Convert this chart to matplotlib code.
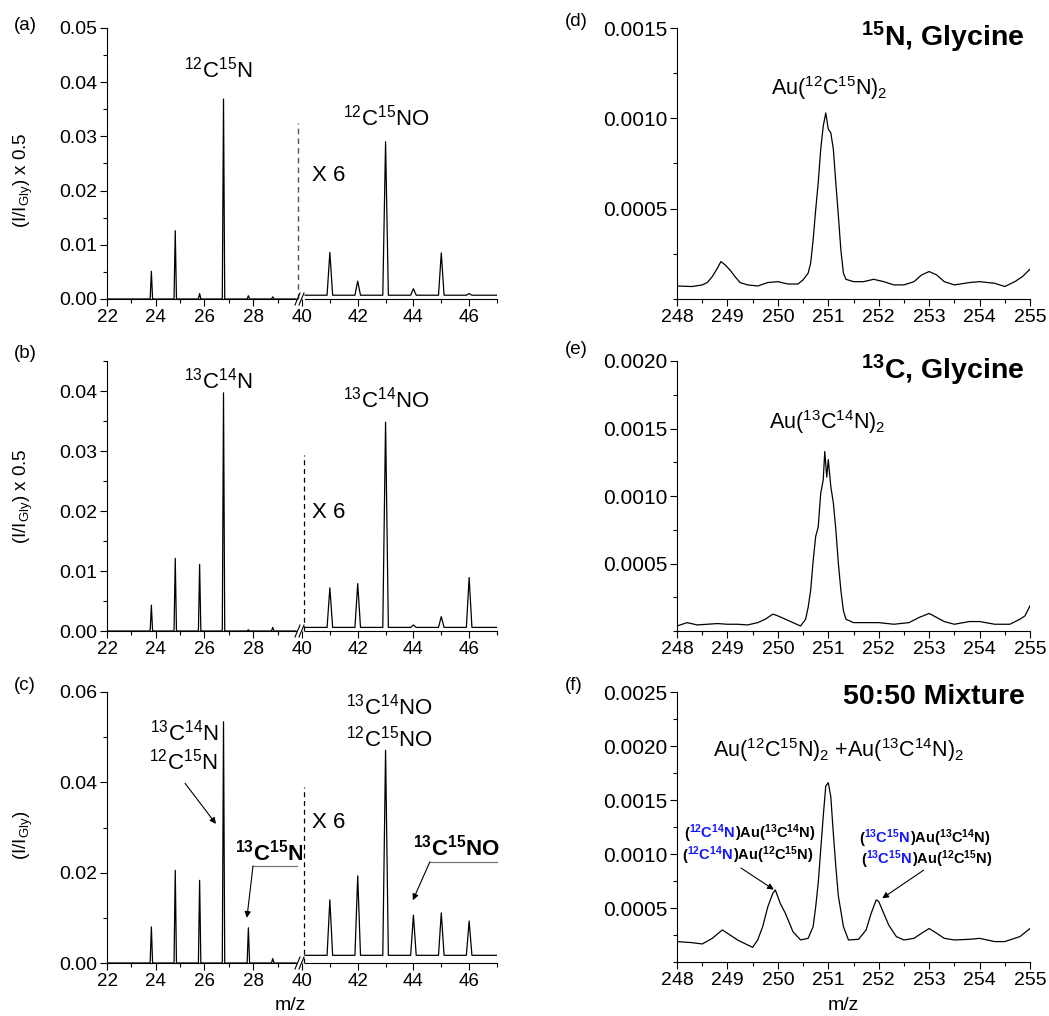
import numpy as np
import matplotlib.pyplot as plt
from matplotlib import transforms
from matplotlib.lines import Line2D
from matplotlib.ticker import MultipleLocator, FixedLocator, FormatStrFormatter

plt.rcParams['font.family'] = ['Liberation Sans', 'DejaVu Sans']
plt.rcParams['mathtext.fontset'] = 'custom'
plt.rcParams['mathtext.rm'] = 'Liberation Sans'
plt.rcParams['mathtext.it'] = 'Liberation Sans:italic'
plt.rcParams['mathtext.bf'] = 'Liberation Sans:bold'
plt.rcParams['mathtext.default'] = 'regular'

W, H = 1049, 1016
BLUE = '#1414ff'

# ---- panels (a)-(c): peak m/z and heights (low range, and high range x6) ----
low_mz = [23.82, 24.80, 25.80, 26.78, 27.80, 28.80]
high_mz = [41.0, 42.0, 43.0, 44.0, 45.0, 46.0]
low_ticks = [22, 24, 26, 28]
high_ticks = [40, 42, 44, 46]

a_low = [0.0051, 0.0126, 0.0010, 0.0369, 0.0006, 0.0004]
a_high = [0.0086, 0.0033, 0.0290, 0.0019, 0.0085, 0.0010]
a_base = 0.0007

b_low = [0.0043, 0.0121, 0.0111, 0.0397, 0.0002, 0.0006]
b_high = [0.0072, 0.0079, 0.0348, 0.0010, 0.0024, 0.0089]
b_base = 0.0006

c_low = [0.0080, 0.0205, 0.0183, 0.0534, 0.0078, 0.0010]
c_high = [0.0140, 0.0193, 0.0471, 0.0106, 0.0111, 0.0093]
c_base = 0.0017

# ---- panels (d)-(f): Au(CN)2 region traces (intensity in units of 1e-4) ----
mz_d = [248.0, 248.3, 248.5, 248.6, 248.7, 248.8, 248.87, 248.95, 249.05, 249.15,
        249.25, 249.4, 249.6, 249.8, 250.0, 250.2, 250.4, 250.5, 250.6, 250.65,
        250.7, 250.75, 250.8, 250.85, 250.9, 250.95, 251.0, 251.05, 251.1, 251.15,
        251.2, 251.25, 251.3, 251.35, 251.5, 251.7, 251.9, 252.1, 252.3, 252.5,
        252.7, 252.85, 253.0, 253.15, 253.3, 253.5, 253.8, 254.0, 254.3, 254.5,
        254.7, 254.85, 255.0]
int_d = [0.72, 0.69, 0.78, 0.91, 1.24, 1.70, 2.07, 1.90, 1.61, 1.24,
         0.91, 0.78, 0.72, 0.91, 0.96, 0.83, 0.83, 1.06, 1.43, 1.98,
         3.28, 4.94, 6.43, 8.28, 9.57, 10.3, 9.4, 9.2, 8.3, 6.4,
         4.6, 2.7, 1.43, 1.09, 0.96, 0.96, 1.09, 0.96, 0.78, 0.78,
         0.96, 1.33, 1.52, 1.33, 0.96, 0.78, 0.91, 0.96, 0.87, 0.69,
         0.96, 1.24, 1.65]

mz_e = [248.0, 248.2, 248.4, 248.6, 248.8, 249.0, 249.2, 249.4, 249.6, 249.75,
        249.9, 250.0, 250.15, 250.3, 250.45, 250.55, 250.6, 250.65, 250.7, 250.75,
        250.8, 250.85, 250.9, 250.93, 250.97, 251.0, 251.05, 251.1, 251.15, 251.2,
        251.25, 251.3, 251.35, 251.5, 251.8, 252.0, 252.3, 252.6, 252.8, 253.0,
        253.15, 253.3, 253.5, 253.8, 254.0, 254.3, 254.6, 254.8, 254.9, 255.0]
int_e = [0.37, 0.62, 0.45, 0.50, 0.55, 0.50, 0.50, 0.45, 0.62, 0.87,
         1.25, 1.12, 0.87, 0.62, 0.37, 0.87, 1.74, 3.0, 5.2, 7.0,
         7.7, 10.2, 11.2, 13.3, 11.4, 12.7, 10.7, 9.5, 7.5, 5.0,
         3.0, 1.5, 0.87, 0.62, 0.62, 0.62, 0.50, 0.62, 1.0, 1.3,
         1.0, 0.7, 0.5, 0.7, 0.7, 0.5, 0.5, 0.87, 1.12, 1.87]

mz_f = [248.0, 248.3, 248.5, 248.7, 248.9, 249.0, 249.2, 249.4, 249.5, 249.6,
        249.7, 249.8, 249.9, 249.95, 250.05, 250.15, 250.3, 250.45, 250.6, 250.7,
        250.75, 250.8, 250.85, 250.9, 250.95, 251.0, 251.05, 251.1, 251.15, 251.2,
        251.3, 251.4, 251.6, 251.75, 251.85, 251.95, 252.0, 252.1, 252.2, 252.35,
        252.5, 252.7, 252.85, 253.0, 253.15, 253.3, 253.5, 253.8, 254.0, 254.3,
        254.5, 254.8, 255.0]
int_f = [1.89, 1.79, 1.67, 2.19, 2.97, 2.66, 2.04, 1.58, 1.36, 2.04,
         3.28, 5.1, 6.37, 6.67, 5.4, 4.5, 2.8, 2.04, 2.19, 3.28,
         5.1, 7.3, 10.4, 13.5, 16.3, 16.6, 15.3, 11.9, 8.8, 6.1,
         3.28, 2.04, 2.1, 2.97, 4.5, 5.75, 5.6, 4.5, 3.4, 2.35,
         2.04, 2.19, 2.66, 3.1, 2.66, 2.19, 2.04, 2.1, 2.19, 1.89,
         1.89, 2.35, 3.1]

fig = plt.figure(figsize=(W / 100, H / 100), dpi=100)


def px_axes(x0, x1, y0, y1):
    return fig.add_axes([x0 / W, 1 - y1 / H, (x1 - x0) / W, (y1 - y0) / H])


def style(ax, size=13.5):
    ax.tick_params(which='major', direction='out', length=5, width=0.8, labelsize=size, pad=2)
    ax.tick_params(which='minor', direction='out', length=3, width=0.8)
    ax.spines['top'].set_visible(False)
    ax.spines['right'].set_visible(False)
    for s in ('left', 'bottom'):
        ax.spines[s].set_linewidth(0.8)


def spikes(mz, h, base, hw, x0, x1):
    xs, ys = [x0], [base]
    for c, v in zip(mz, h):
        xs += [c - hw, c, c + hw]
        ys += [base, v, base]
    xs.append(x1)
    ys.append(base)
    return xs, ys


def left_panel(y0, y1, ymax, ystep, low_h, high_h, high_base):
    axl = px_axes(107, 302, y0, y1)
    axr = px_axes(302, 497, y0, y1)
    for ax in (axl, axr):
        style(ax)
        ax.set_ylim(0, ymax)
    axl.set_xlim(22, 30)
    axr.set_xlim(40, 47)
    axl.xaxis.set_major_locator(FixedLocator(low_ticks))
    axl.xaxis.set_minor_locator(FixedLocator([t + 1 for t in low_ticks]))
    axr.xaxis.set_major_locator(FixedLocator(high_ticks))
    axr.xaxis.set_minor_locator(FixedLocator([t + 1 for t in high_ticks]))
    axl.yaxis.set_major_locator(MultipleLocator(ystep))
    axl.yaxis.set_minor_locator(MultipleLocator(ystep / 2))
    axl.yaxis.set_major_formatter(FormatStrFormatter('%.2f'))
    axl.tick_params(axis='y', labelsize=14)
    axr.spines['left'].set_visible(False)
    axr.tick_params(axis='y', which='both', left=False, labelleft=False)
    axl.spines['bottom'].set_bounds(22, 29.75)
    axr.spines['bottom'].set_bounds(40.11, 47)
    x, y = spikes(low_mz, low_h, 0, 0.05, 22, 29.75)
    axl.plot(x, y, color='k', lw=0.9)
    x, y = spikes(high_mz, high_h, high_base, 0.1, 40.11, 47)
    axr.plot(x, y, color='k', lw=0.9)
    # axis break marks
    for dx in (0, 4):
        fig.add_artist(Line2D([(295 + dx) / W, (300 + dx) / W],
                              [1 - (y1 + 6) / H, 1 - (y1 - 6) / H],
                              transform=fig.transFigure, color='k', lw=0.8))
    return axl, axr


def right_panel(y0, y1, ymax, mz, inten):
    ax = px_axes(677, 1030, y0, y1)
    style(ax, 14)
    ax.tick_params(axis='y', labelsize=15)
    ax.plot(mz, np.array(inten) * 1e-4, color='k', lw=0.9)
    ax.set_xlim(248, 255)
    ax.set_ylim(0, ymax)
    ax.xaxis.set_major_locator(MultipleLocator(1))
    ax.xaxis.set_minor_locator(MultipleLocator(0.5))
    ax.yaxis.set_major_locator(FixedLocator(np.arange(0.0005, ymax + 1e-9, 0.0005)))
    ax.yaxis.set_minor_locator(MultipleLocator(0.00025))
    ax.yaxis.set_major_formatter(FormatStrFormatter('%.4f'))
    return ax


def rich_text(ax, x, y, parts, size):
    r = fig.canvas.get_renderer()
    shift = 0
    for s, c in parts:
        t = ax.text(x, y, s, color=c, fontsize=size, fontweight='bold', ha='left', va='baseline',
                    transform=transforms.offset_copy(ax.transData, fig=fig, x=shift, units='dots'))
        shift += t.get_window_extent(r).width


LBL = 16
arrow = dict(arrowstyle='-|>', color='k', lw=0.8, mutation_scale=9, shrinkA=0, shrinkB=0)

# ---------------- (a) ----------------
axl, axr = left_panel(28, 299, 0.05, 0.01, a_low, a_high, a_base)
axl.plot([29.84, 29.84], [0, 0.0325], ls=(0, (4, 3)), color='#555555', lw=1, clip_on=False)
axl.text(26.55, 0.0424, r'$^{12}$C$^{15}$N', fontsize=LBL, ha='center', va='center')
axr.text(43.02, 0.0334, r'$^{12}$C$^{15}$NO', fontsize=LBL, ha='center', va='center')
axr.text(40.36, 0.0227, 'X 6', fontsize=LBL, ha='left', va='center')

# ---------------- (b) ----------------
axl, axr = left_panel(361, 631, 0.045, 0.01, b_low, b_high, b_base)
axr.plot([40.08, 40.08], [0, 0.0293], ls=(0, (4, 3)), color='k', lw=0.9, clip_on=False)
axl.text(26.55, 0.0418, r'$^{13}$C$^{14}$N', fontsize=LBL, ha='center', va='center')
axr.text(43.02, 0.0385, r'$^{13}$C$^{14}$NO', fontsize=LBL, ha='center', va='center')
axr.text(40.36, 0.0197, 'X 6', fontsize=LBL, ha='left', va='center')

# ---------------- (c) ----------------
axl, axr = left_panel(692, 963, 0.06, 0.02, c_low, c_high, c_base)
axr.plot([40.08, 40.08], [0, 0.039], ls=(0, (4, 3)), color='k', lw=0.9, clip_on=False)
axl.text(25.16, 0.0511, r'$^{13}$C$^{14}$N', fontsize=LBL, ha='center', va='center')
axl.text(25.12, 0.0445, r'$^{12}$C$^{15}$N', fontsize=LBL, ha='center', va='center')
axl.annotate('', xy=(26.47, 0.0308), xytext=(25.2, 0.0398), arrowprops=arrow)
axl.text(28.65, 0.0244, r'$^{\mathbf{13}}$C$^{\mathbf{15}}$N', fontsize=LBL, fontweight='bold',
         ha='center', va='center')
axl.plot([27.99, 29.8], [0.0215, 0.0215], color='#777777', lw=0.9, clip_on=False)
axl.annotate('', xy=(27.74, 0.0100), xytext=(27.99, 0.0215), arrowprops=arrow)
axr.text(43.12, 0.0567, r'$^{13}$C$^{14}$NO', fontsize=LBL, ha='center', va='center')
axr.text(43.12, 0.0498, r'$^{12}$C$^{15}$NO', fontsize=LBL, ha='center', va='center')
axr.text(40.36, 0.031, 'X 6', fontsize=LBL, ha='left', va='center')
axr.text(45.53, 0.0255, r'$^{\mathbf{13}}$C$^{\mathbf{15}}$NO', fontsize=LBL, fontweight='bold',
         ha='center', va='center')
axr.plot([44.59, 47.0], [0.0224, 0.0224], color='#777777', lw=0.9, clip_on=False)
axr.annotate('', xy=(43.98, 0.0139), xytext=(44.59, 0.0224), arrowprops=arrow)

# ---------------- (d) ----------------
ax = right_panel(28, 299, 0.0015, mz_d, int_d)
ax.text(251.03, 0.00117, r'Au($^{12}$C$^{15}$N)$_2$', fontsize=15.5, ha='center', va='center')
ax.text(254.9, 0.00145, r'$^{\mathbf{15}}$N, Glycine', fontsize=20.5, fontweight='bold',
        ha='right', va='center')

# ---------------- (e) ----------------
ax = right_panel(361, 631, 0.002, mz_e, int_e)
ax.text(250.98, 0.00155, r'Au($^{13}$C$^{14}$N)$_2$', fontsize=15.5, ha='center', va='center')
ax.text(254.9, 0.00193, r'$^{\mathbf{13}}$C, Glycine', fontsize=20.5, fontweight='bold',
        ha='right', va='center')

# ---------------- (f) ----------------
ax = right_panel(692, 962, 0.0025, mz_f, int_f)
ax.text(248.72, 0.00196, r'Au($^{12}$C$^{15}$N)$_2$ +Au($^{13}$C$^{14}$N)$_2$', fontsize=15.5,
        ha='left', va='center')
ax.text(254.9, 0.00245, '50:50 Mixture', fontsize=20.5, fontweight='bold', ha='right', va='center')
bl12_14 = r'$^{\mathbf{12}}$C$^{\mathbf{14}}$N'
bl13_15 = r'$^{\mathbf{13}}$C$^{\mathbf{15}}$N'
au13_14 = r')Au($^{\mathbf{13}}$C$^{\mathbf{14}}$N)'
au12_15 = r')Au($^{\mathbf{12}}$C$^{\mathbf{15}}$N)'
rich_text(ax, 248.14, 0.00115, [('(', 'k'), (bl12_14, BLUE), (au13_14, 'k')], 10.5)
rich_text(ax, 248.10, 0.00094, [('(', 'k'), (bl12_14, BLUE), (au12_15, 'k')], 10.5)
rich_text(ax, 251.62, 0.00110, [('(', 'k'), (bl13_15, BLUE), (au13_14, 'k')], 10.5)
rich_text(ax, 251.66, 0.00091, [('(', 'k'), (bl13_15, BLUE), (au12_15, 'k')], 10.5)
ax.annotate('', xy=(249.92, 0.00067), xytext=(249.27, 0.00087), arrowprops=arrow)
ax.annotate('', xy=(252.07, 0.00059), xytext=(252.89, 0.00085), arrowprops=arrow)

# ---------------- labels ----------------
for txt, y in [('(a)', 25), ('(b)', 353), ('(c)', 686)]:
    fig.text(14 / W, 1 - y / H, txt, fontsize=13.5, ha='left', va='center')
for txt, y in [('(d)', 22), ('(e)', 350), ('(f)', 685)]:
    fig.text(565 / W, 1 - y / H, txt, fontsize=13.5, ha='left', va='center')
for txt, y in [(r'(I/I$_{Gly}$) x 0.5', 180), (r'(I/I$_{Gly}$) x 0.5', 496), (r'(I/I$_{Gly}$)', 835)]:
    fig.text(23 / W, 1 - y / H, txt, fontsize=13.5, rotation=90, ha='center', va='center')
fig.text(290 / W, 1 - 1005 / H, 'm/z', fontsize=14, ha='center', va='center')
fig.text(843 / W, 1 - 1005 / H, 'm/z', fontsize=14, ha='center', va='center')

fig.savefig('out.png', dpi=100)
